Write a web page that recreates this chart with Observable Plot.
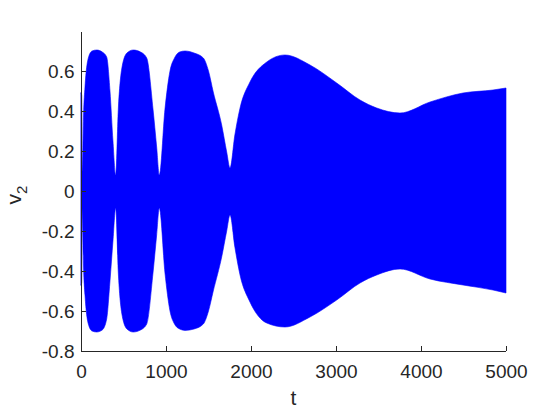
<!DOCTYPE html>
<html>
<head>
<meta charset="utf-8">
<script src="https://cdn.jsdelivr.net/npm/d3@7"></script>
<script src="https://cdn.jsdelivr.net/npm/@observablehq/plot@0.6"></script>
<style>
  html, body { margin: 0; padding: 0; background: #fff; }
  #chart { width: 560px; height: 410px; }
</style>
</head>
<body>
<div id="chart"></div>
<script>
// envelope of the rapidly oscillating signal v2(t)
const tValues = [0, 8, 16, 30, 47, 86, 130, 185, 250, 302, 341, 376, 408,
  439, 479, 540, 615, 700, 773, 847, 890, 921,
  988, 1047, 1100, 1160, 1224, 1330, 1439, 1500, 1556, 1655, 1714, 1753,
  1810, 1871, 1988, 2185, 2400, 2694, 3008, 3282, 3479, 3753, 4106, 4494, 4847, 5000];
const upperValues = [0.49, 0.48, 0.10, 0.38, 0.52, 0.665, 0.70, 0.705, 0.695, 0.67, 0.50, 0.25, 0.08,
  0.41, 0.61, 0.69, 0.705, 0.695, 0.665, 0.41, 0.22, 0.08,
  0.41, 0.60, 0.665, 0.695, 0.70, 0.69, 0.665, 0.60, 0.495, 0.33, 0.195, 0.115,
  0.28, 0.415, 0.545, 0.645, 0.68, 0.63, 0.54, 0.455, 0.415, 0.39, 0.445, 0.49, 0.505, 0.515];
const lowerValues = [-0.47, -0.46, -0.09, -0.38, -0.52, -0.665, -0.70, -0.705, -0.695, -0.64, -0.45, -0.25, -0.085,
  -0.41, -0.61, -0.69, -0.705, -0.695, -0.665, -0.41, -0.22, -0.085,
  -0.41, -0.60, -0.665, -0.69, -0.697, -0.69, -0.665, -0.60, -0.50, -0.33, -0.20, -0.12,
  -0.28, -0.42, -0.555, -0.66, -0.68, -0.63, -0.545, -0.46, -0.42, -0.39, -0.44, -0.47, -0.495, -0.51];

const xTicks = [0, 1000, 2000, 3000, 4000, 5000];
const yTicks = [-0.8, -0.6, -0.4, -0.2, 0, 0.2, 0.4, 0.6];
const xLabel = "t";
const yLabel = "v";
const ySub = "2";

const data = tValues.map((t, i) => ({t, up: upperValues[i], lo: lowerValues[i]}));

const ink = "#262626";
const font = "'Liberation Sans', Helvetica, Arial, sans-serif";

const chart = Plot.plot({
  width: 560,
  height: 410,
  marginLeft: 81,
  marginRight: 54,
  marginTop: 32,
  marginBottom: 59,
  style: {fontFamily: font, fontSize: "19px", color: ink, background: "#fff", overflow: "visible"},
  x: {domain: [0, 5000]},
  y: {domain: [-0.8, 0.795]},
  marks: [
    Plot.areaY(data, {x: "t", y1: "lo", y2: "up", fill: "#0000ff", stroke: "#0000ff", strokeWidth: 0.6, curve: "monotone-x"}),
    Plot.ruleX([0], {stroke: ink, strokeWidth: 1}),
    Plot.ruleY([-0.8], {stroke: ink, strokeWidth: 1}),
    Plot.axisX({ticks: xTicks, tickSize: -5, tickPadding: 18, fontSize: 19, tickFormat: d => String(d), label: null, stroke: ink, fill: ink}),
    Plot.axisY({ticks: yTicks, tickSize: -5, tickPadding: 12, fontSize: 19, tickFormat: d => String(d), label: null, stroke: ink, fill: ink})
  ]
});

const svg = d3.select(chart);
svg.append("text")
  .attr("x", 81 + 425 / 2)
  .attr("y", 405)
  .attr("text-anchor", "middle")
  .attr("font-family", font)
  .attr("font-size", 21)
  .attr("fill", ink)
  .text(xLabel);
const yl = svg.append("text")
  .attr("transform", "translate(21,195) rotate(-90)")
  .attr("text-anchor", "middle")
  .attr("font-family", font)
  .attr("font-size", 21)
  .attr("fill", ink);
yl.append("tspan").text(yLabel);
yl.append("tspan").attr("font-size", 15).attr("dy", 6).text(ySub);

document.getElementById("chart").appendChild(chart);
</script>
</body>
</html>
